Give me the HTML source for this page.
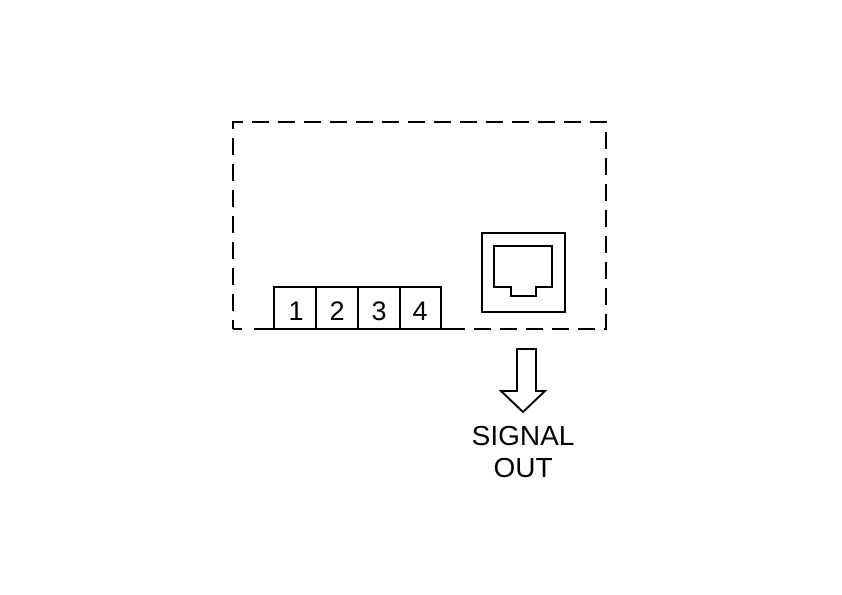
<!DOCTYPE html>
<html><head><style>body{margin:0;background:#fff}svg{display:block}</style></head><body>
<svg width="842" height="595" viewBox="0 0 842 595" xmlns="http://www.w3.org/2000/svg">
<g fill="none" stroke="#000" stroke-width="2">
<path d="M233 329 V122 H606 V329 H460" stroke-dasharray="17 9" stroke-dashoffset="8"/>
<line x1="233" y1="329" x2="242" y2="329"/>
<line x1="254" y1="329" x2="460" y2="329"/>
<rect x="274" y="287" width="167" height="42"/>
<line x1="316" y1="287" x2="316" y2="329"/>
<line x1="358" y1="287" x2="358" y2="329"/>
<line x1="400" y1="287" x2="400" y2="329"/>
<rect x="482" y="233" width="83" height="79"/>
<path d="M494 246 H552 V287 H536 V296 H511 V287 H494 Z"/>
<path d="M517 349 H536 V391 H545 L523 412 L501 391 H517 Z"/>
</g>
<g font-family="Liberation Sans, sans-serif" font-size="27" text-anchor="middle" fill="#000">
<text x="296" y="320">1</text><text x="337" y="320">2</text><text x="379" y="320">3</text><text x="420" y="320">4</text>
<text x="523" y="445" font-size="28">SIGNAL</text><text x="523" y="477" font-size="28">OUT</text>
</g>
</svg>
</body></html>
